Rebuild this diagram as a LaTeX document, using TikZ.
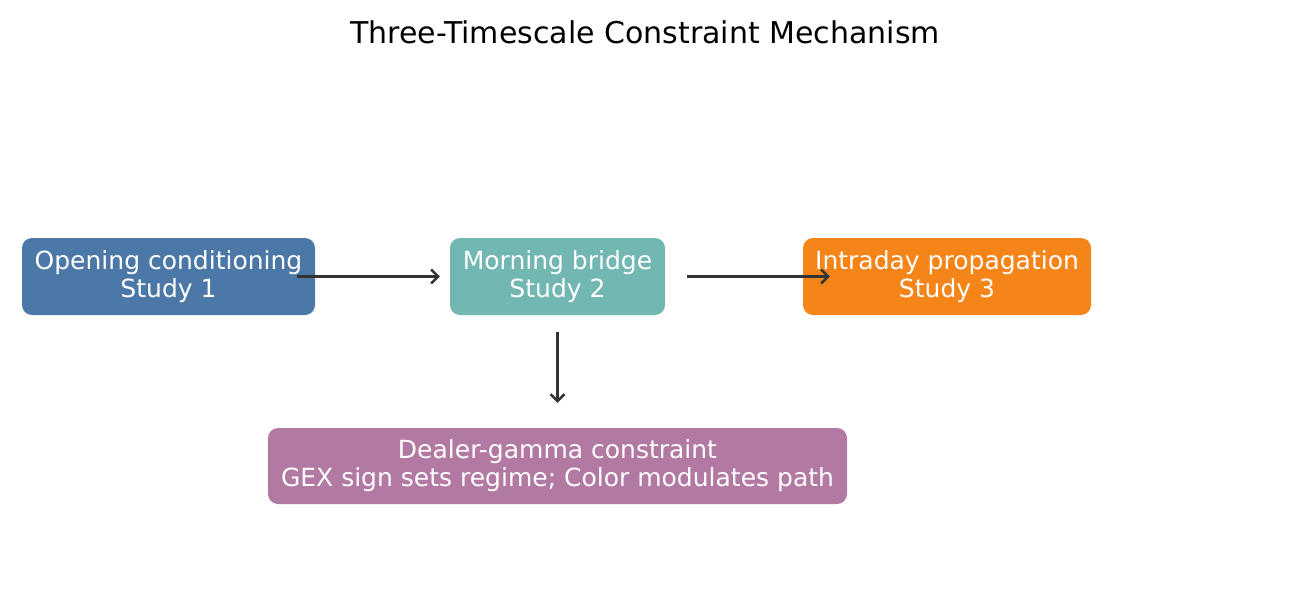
\documentclass[tikz,border=0pt]{standalone}
\usepackage{fontspec}
\setmainfont{DejaVu Sans}
\usetikzlibrary{arrows.meta}
\definecolor{cblue}{HTML}{4C78A8}
\definecolor{cteal}{HTML}{72B7B2}
\definecolor{corange}{HTML}{F58518}
\definecolor{cpurple}{HTML}{B279A2}
\definecolor{carrow}{HTML}{333333}
\begin{document}
\begin{tikzpicture}[x=1pt,y=-1pt,
  box/.style={rounded corners=10pt, inner sep=0pt, text=white, align=center,
    font=\fontsize{25}{28}\selectfont, minimum height=77pt},
  conn/.style={draw=carrow, line width=2.5pt, -{Straight Barb[length=7pt,width=14pt,line width=2.5pt]}}]
\useasboundingbox (0,0) rectangle (1291,600);
\node[font=\fontsize{30}{34}\selectfont] (title) at (645,32) {Three-Timescale Constraint Mechanism};
\node[box, fill=cblue, minimum width=293pt] (b1) at (168.5,276.5) {Opening conditioning\\Study 1};
\node[box, fill=cteal, minimum width=215pt] (b2) at (557.5,276.5) {Morning bridge\\Study 2};
\node[box, fill=corange, minimum width=288pt] (b3) at (947,276.5) {Intraday propagation\\Study 3};
\node[box, fill=cpurple, minimum width=579pt, minimum height=76pt] (b4) at (557.5,466) {Dealer-gamma constraint\\GEX sign sets regime; Color modulates path};
\draw[conn] ([xshift=-18pt]b1.east) -- ([xshift=-10pt]b2.west);
\draw[conn] ([xshift=22pt]b2.east) -- ([xshift=27pt]b3.west);
\draw[conn] ([yshift=-17pt]b2.south) -- ([yshift=25pt]b4.north);
\end{tikzpicture}
\end{document}
